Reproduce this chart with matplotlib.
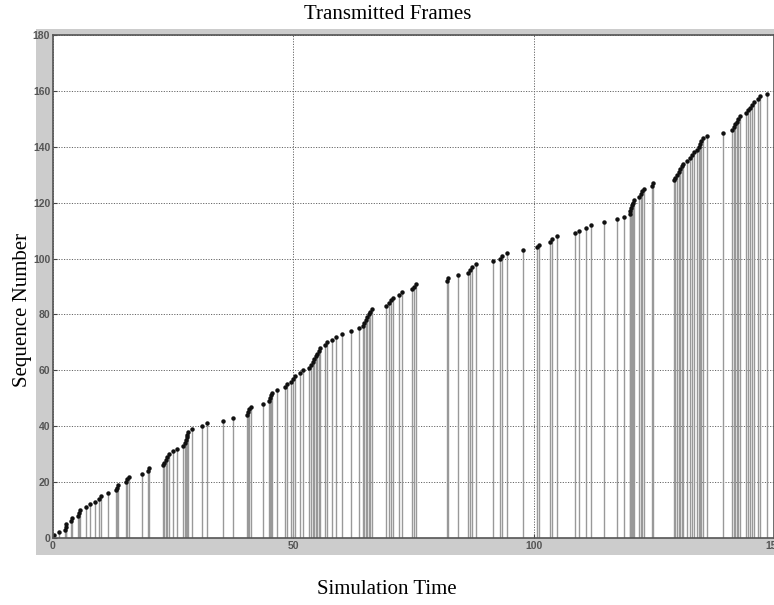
import matplotlib
matplotlib.use('Agg')
import matplotlib.pyplot as plt
from matplotlib.patches import Rectangle

# Simulation time at which each frame was sent
send_times = [
    0.3, 1.3, 2.6, 2.7, 2.8, 3.7, 3.9, 5.3, 5.4, 5.6,
    6.9, 7.8, 8.8, 9.6, 9.9, 11.4, 13.2, 13.4, 13.6, 15.1,
    15.4, 15.8, 18.5, 19.8, 19.9, 22.9, 23.1, 23.5, 23.8, 24.2,
    25.0, 25.7, 27.0, 27.5, 27.6, 27.8, 27.9, 28.1, 29.0, 30.9,
    32.0, 35.4, 37.5, 40.3, 40.5, 40.8, 41.1, 43.6, 44.9, 45.1,
    45.3, 45.6, 46.7, 48.3, 48.7, 49.5, 49.9, 50.3, 51.4, 52.0,
    53.3, 53.7, 54.1, 54.4, 54.7, 55.0, 55.3, 55.6, 56.6, 57.0,
    58.0, 58.9, 60.2, 62.1, 63.6, 64.5, 64.8, 65.1, 65.4, 65.7,
    66.0, 66.4, 69.3, 69.8, 70.3, 70.7, 72.0, 72.6, 74.6, 75.0,
    75.6, 82.0, 82.1, 84.2, 86.4, 86.8, 87.2, 87.9, 91.6, 93.0,
    93.4, 94.4, 97.7, 100.6, 101.1, 103.4, 103.8, 104.9, 108.7, 109.4,
    110.8, 112.0, 114.7, 117.3, 118.8, 120.0, 120.1, 120.3, 120.4, 120.6,
    120.8, 122.0, 122.3, 122.6, 122.9, 124.7, 124.9, 129.2, 129.5, 129.9,
    130.2, 130.5, 130.8, 131.0, 132.0, 132.6, 133.0, 133.4, 134.0, 134.3,
    134.6, 134.9, 135.2, 136.0, 139.3, 141.3, 141.6, 141.9, 142.2, 142.5,
    143.0, 144.2, 144.6, 145.0, 145.4, 145.8, 146.7, 147.1, 148.5,
]

# Sequence number of each frame
seq_numbers = [
    1, 2, 3, 4, 5, 6, 7, 8, 9, 10,
    11, 12, 13, 14, 15, 16, 17, 18, 19, 20,
    21, 22, 23, 24, 25, 26, 27, 28, 29, 30,
    31, 32, 33, 34, 35, 36, 37, 38, 39, 40,
    41, 42, 43, 44, 45, 46, 47, 48, 49, 50,
    51, 52, 53, 54, 55, 56, 57, 58, 59, 60,
    61, 62, 63, 64, 65, 66, 67, 68, 69, 70,
    71, 72, 73, 74, 75, 76, 77, 78, 79, 80,
    81, 82, 83, 84, 85, 86, 87, 88, 89, 90,
    91, 92, 93, 94, 95, 96, 97, 98, 99, 100,
    101, 102, 103, 104, 105, 106, 107, 108, 109, 110,
    111, 112, 113, 114, 115, 116, 117, 118, 119, 120,
    121, 122, 123, 124, 125, 126, 127, 128, 129, 130,
    131, 132, 133, 134, 135, 136, 137, 138, 139, 140,
    141, 142, 143, 144, 145, 146, 147, 148, 149, 150,
    151, 152, 153, 154, 155, 156, 157, 158, 159,
]

x_ticks = [0, 50, 100, 150]
y_ticks = [0, 20, 40, 60, 80, 100, 120, 140, 160, 180]

fig = plt.figure(figsize=(7.74, 6.05), dpi=100)

# Gray panel behind the axes (MATLAB figure background)
fig.patches.append(Rectangle((36 / 774, 50 / 605), 1 - 36 / 774, 526 / 605,
                             transform=fig.transFigure, facecolor='#cccccc',
                             edgecolor='none', zorder=-1))

ax = fig.add_axes([53 / 774, 67 / 605, 721 / 774, 503 / 605])
ax.set_zorder(1)
ax.set_facecolor('white')

markers, stems, base = ax.stem(send_times, seq_numbers, basefmt=' ')
plt.setp(stems, color='#999999', linewidth=1.0)
plt.setp(markers, color='#111111', markersize=2.2)

ax.set_xlim(0, 150)
ax.set_ylim(0, 180)
ax.set_xticks(x_ticks)
ax.set_yticks(y_ticks)
ax.grid(True, color='#666666', linestyle=(0, (1.2, 1.5)), linewidth=0.7)
ax.set_axisbelow(True)
ax.tick_params(direction='in', length=3, width=0.8, colors='#444444',
               labelsize=7.5, pad=2)
for lbl in ax.get_xticklabels() + ax.get_yticklabels():
    lbl.set_family(['Liberation Sans Narrow', 'Liberation Sans'])
    lbl.set_fontweight('bold')
    lbl.set_color('#555555')
for sp in ax.spines.values():
    sp.set_color('#555555')
    sp.set_linewidth(1.2)

serif = ['Liberation Serif', 'DejaVu Serif']
fig.text(0.501, 0.976, 'Transmitted Frames', ha='center', va='center',
         family=serif, fontsize=15)
fig.text(0.029, 0.488, 'Sequence Number', ha='center', va='center',
         rotation=90, family=serif, fontsize=15)
fig.text(0.5, 0.025, 'Simulation Time', ha='center', va='center',
         family=serif, fontsize=15)

fig.savefig('out.png', dpi=100)
plt.close(fig)
